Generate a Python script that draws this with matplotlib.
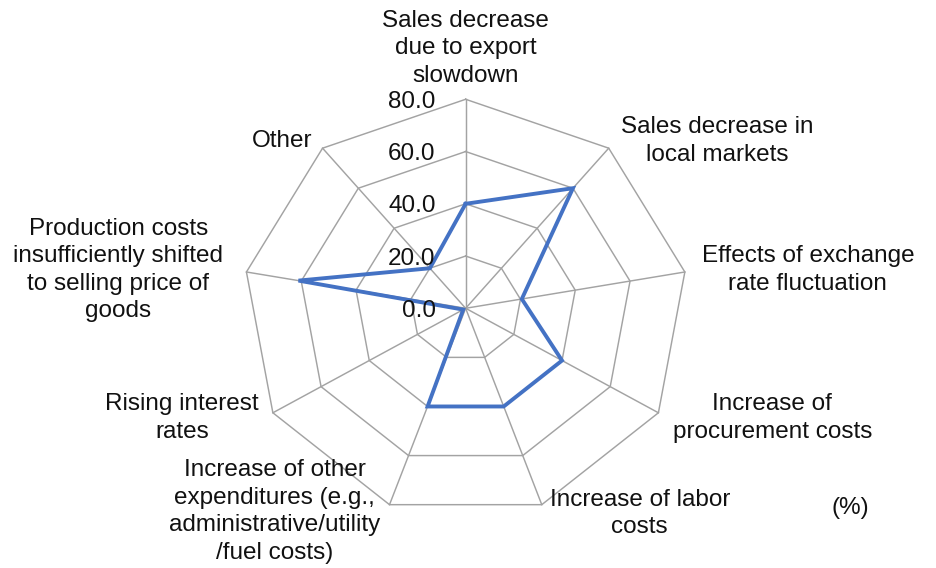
import numpy as np
import matplotlib
matplotlib.use("Agg")
import matplotlib.pyplot as plt

plt.rcParams["font.family"] = ["Liberation Sans", "DejaVu Sans"]

# Survey categories, clockwise from the top
categories = [
    "Sales decrease\ndue to export\nslowdown",
    "Sales decrease in\nlocal markets",
    "Effects of exchange\nrate fluctuation",
    "Increase of\nprocurement costs",
    "Increase of labor\ncosts",
    "Increase of other\nexpenditures (e.g.,\nadministrative/utility\n/fuel costs)",
    "Rising interest\nrates",
    "Production costs\ninsufficiently shifted\nto selling price of\ngoods",
    "Other",
]
values = [40.0, 60.0, 20.5, 40.0, 40.0, 40.0, 1.0, 61.0, 20.0]
ring_levels = [0, 20, 40, 60, 80]
ring_labels = ["0.0", "20.0", "40.0", "60.0", "80.0"]
unit_label = "(%)"

# label placement: pixel offsets from each outer vertex
label_offsets = [(0, 51), (109, 7), (123, 2), (114, -5), (98, -9),
                 (-115, -7), (-91, -5), (-128, 2), (-40, 7)]

grid_color = "#a3a3a3"
line_color = "#4472c4"
fs = 17.5

fig = plt.figure(figsize=(9.37, 5.68), dpi=100)
ax = fig.add_axes([0.2594, 0.0893, 0.4751, 0.7359], projection="polar")
ax.set_theta_zero_location("N")
ax.set_theta_direction(-1)
ax.set_ylim(0, ring_levels[-1])
ax.set_aspect("auto")
ax.grid(False)
ax.spines["polar"].set_visible(False)
ax.set_xticks([])
ax.set_yticks([])
ax.patch.set_visible(False)

n = len(categories)
theta = np.arange(n) * 2 * np.pi / n
theta_closed = np.append(theta, theta[0])

# polygon rings
for lvl in ring_levels[1:]:
    ax.plot(theta_closed, [lvl] * (n + 1), color=grid_color, lw=1.05,
            clip_on=False, zorder=1)
# spokes
for t in theta:
    ax.plot([t, t], [0, ring_levels[-1]], color=grid_color, lw=1.05,
            clip_on=False, zorder=1)

# data polygon
ax.plot(theta_closed, np.append(values, values[0]), color=line_color,
        lw=2.8, solid_joinstyle="miter", clip_on=False, zorder=3)

# radial scale labels
for lvl, lbl in zip(ring_levels, ring_labels):
    ax.annotate(lbl, xy=(0, lvl), xytext=(-30, 0), textcoords="offset pixels",
                ha="right", va="center_baseline", fontsize=fs, color="#111111",
                annotation_clip=False, zorder=4)

# category labels
for t, cat, (dx, dy) in zip(theta, categories, label_offsets):
    ax.annotate(cat, xy=(t, ring_levels[-1]), xytext=(dx, dy),
                textcoords="offset pixels", ha="center", va="center",
                multialignment="center", fontsize=fs, color="#111111",
                linespacing=1.33, annotation_clip=False)

fig.text(850 / 937, 1 - 508 / 568, unit_label, ha="center", va="center",
         fontsize=fs, color="#111111")

fig.savefig("out.png", dpi=100)
